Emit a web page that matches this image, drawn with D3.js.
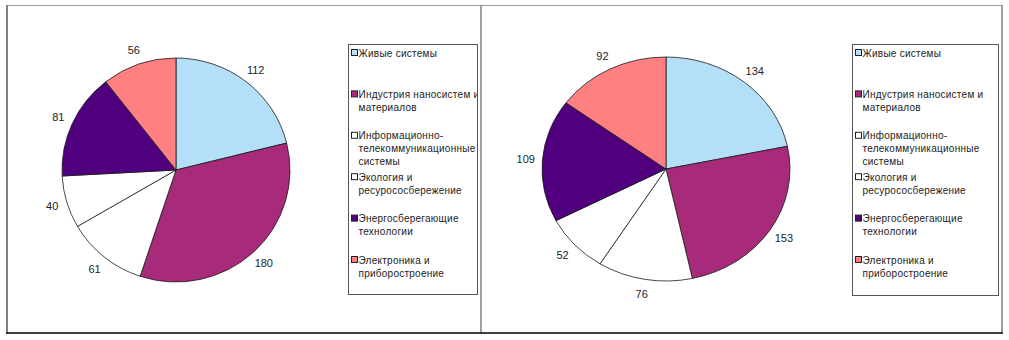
<!DOCTYPE html>
<html>
<head>
<meta charset="utf-8">
<script src="https://cdn.jsdelivr.net/npm/d3@7"></script>
<style>
  body { margin: 0; background: #fff; }
  svg { display: block; font-family: "Liberation Sans", Arial, sans-serif; }
</style>
</head>
<body>
<svg id="chart" width="1009" height="340"></svg>
<script>
// categories and their legend lines
const categories = [
    "Живые системы",
    "Индустрия наносистем и материалов",
    "Информационно-телекоммуникационные системы",
    "Экология и ресурососбережение",
    "Энергосберегающие технологии",
    "Электроника и приборостроение"
];
const legendLines = [
    ["Живые системы"],
    ["Индустрия наносистем и", "материалов"],
    ["Информационно-", "телекоммуникационные", "системы"],
    ["Экология и", "ресурососбережение"],
    ["Энергосберегающие", "технологии"],
    ["Электроника и", "приборостроение"]
];
const valuesLeft = [112, 180, 61, 40, 81, 56];
const valuesRight = [134, 153, 76, 52, 109, 92];
const sliceColors = ["#b3dff9", "#a82a7b", "#ffffff", "#ffffff", "#50007f", "#ff8080"];

const svg = d3.select("#chart");

// outer frames
const frame = svg.append("g").attr("class", "frame");
frame.append("line").attr("x1", 7).attr("x2", 1002).attr("y1", 5.5).attr("y2", 5.5)
    .attr("stroke", "#9a9a9a").attr("stroke-width", 1);
frame.selectAll("line.v").data([7, 481, 1002]).enter().append("line")
    .attr("class", "v")
    .attr("x1", d => d).attr("x2", d => d).attr("y1", 5).attr("y2", 333)
    .attr("stroke", "#808080").attr("stroke-width", d => d === 7 ? 2 : 1.5);
frame.append("line").attr("x1", 6).attr("x2", 1003).attr("y1", 333).attr("y2", 333)
    .attr("stroke", "#000").attr("stroke-width", 1.5);

const charts = [
    { id: "left", values: valuesLeft, cx: 176, cy: 170, rx: 114, ry: 112,
      legend: { x: 348, y: 44, w: 129, h: 250 } },
    { id: "right", values: valuesRight, cx: 666, cy: 169, rx: 124, ry: 112,
      legend: { x: 852, y: 44, w: 146, h: 251 } }
];

charts.forEach(drawChart);

function drawChart(c) {
    const pie = d3.pie().sort(null).value(d => d.value);
    const data = pie(categories.map((k, i) => ({ key: k, value: c.values[i], color: sliceColors[i] })));
    const sx = c.rx / c.ry;

    const arc = d3.arc().innerRadius(0).outerRadius(c.ry);
    const labelArc = d3.arc().innerRadius(c.ry + 15).outerRadius(c.ry + 15);

    const g = svg.append("g")
        .attr("transform", "translate(" + c.cx + "," + c.cy + ") scale(" + sx + ",1)");

    g.selectAll("path")
        .data(data)
        .enter().append("path")
        .attr("d", arc)
        .attr("fill", d => d.data.color)
        .attr("stroke", "#1a1a1a")
        .attr("stroke-width", 0.8)
        .attr("vector-effect", "non-scaling-stroke");

    svg.append("g").selectAll("text")
        .data(data)
        .enter().append("text")
        .attr("x", d => c.cx + labelArc.centroid(d)[0] * sx)
        .attr("y", d => c.cy + labelArc.centroid(d)[1])
        .attr("text-anchor", "middle")
        .attr("dominant-baseline", "central")
        .attr("font-size", 11)
        .attr("fill", "#222")
        .text(d => d.data.value);

    // legend
    const L = c.legend;
    svg.append("clipPath").attr("id", "clip-" + c.id)
        .append("rect").attr("x", L.x).attr("y", L.y).attr("width", L.w).attr("height", L.h);

    svg.append("rect")
        .attr("x", L.x + 0.5).attr("y", L.y + 0.5)
        .attr("width", L.w).attr("height", L.h)
        .attr("fill", "#fff")
        .attr("stroke", "#555")
        .attr("stroke-width", 1);

    const yPos = d3.scalePoint().domain(categories).range([L.y + 9, L.y + 216]);

    const items = svg.append("g")
        .attr("clip-path", "url(#clip-" + c.id + ")")
        .selectAll("g")
        .data(data)
        .enter().append("g")
        .attr("transform", d => "translate(" + L.x + "," + yPos(d.data.key) + ")");

    items.append("rect")
        .attr("x", 3.5).attr("y", -3.5)
        .attr("width", 6).attr("height", 6)
        .attr("fill", d => d.data.color)
        .attr("stroke", "#222")
        .attr("stroke-width", 1);

    items.each(function (d, i) {
        d3.select(this).selectAll("text")
            .data(legendLines[i])
            .enter().append("text")
            .attr("x", 10.5)
            .attr("y", (t, j) => j * 13)
            .attr("dominant-baseline", "central")
            .attr("font-size", 10)
            .attr("letter-spacing", 0.25)
            .attr("fill", "#222")
            .text(t => t);
    });
}
</script>
</body>
</html>
